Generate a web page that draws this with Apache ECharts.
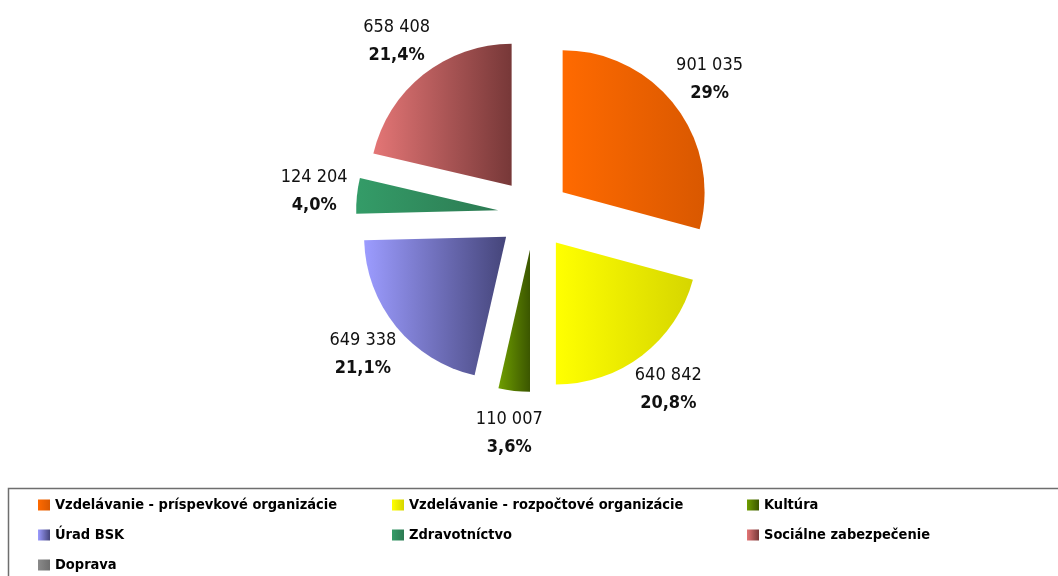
<!DOCTYPE html>
<html lang="sk">
<head>
<meta charset="UTF-8">
<title>Výdavky podľa oblastí</title>
<script src="https://cdn.jsdelivr.net/npm/echarts@6/dist/echarts.min.js"></script>
<style>
  html, body { margin: 0; padding: 0; background: #fff; }
  #chart { width: 1058px; height: 576px; }
</style>
</head>
<body>
<div id="chart"></div>
<script>
// kategórie a hodnoty odčítané z grafu
let categories = ['Vzdelávanie - príspevkové organizácie', 'Vzdelávanie - rozpočtové organizácie', 'Kultúra',
    'Úrad BSK', 'Zdravotníctvo', 'Sociálne zabezpečenie', 'Doprava'];
let values = [901035, 640842, 110007, 649338, 124204, 658408, 0];
let percentLabels = ['29%', '20,8%', '3,6%', '21,1%', '4,0%', '21,4%', ''];

// farby: svetlá -> tmavá (zľava doprava)
let colorPairs = [
    ['#ff6a00', '#d95800'],
    ['#ffff00', '#d6d600'],
    ['#6f9e00', '#3b5600'],
    ['#9c9cff', '#45457a'],
    ['#349c68', '#2c7a52'],
    ['#e47676', '#773838'],
    ['#8a8a8a', '#6e6e6e']
];

const FONT = '"Liberation Sans Narrow", "DejaVu Sans Condensed", "Liberation Sans", sans-serif';

function fmt(v) {
    return String(v).replace(/\B(?=(\d{3})+(?!\d))/g, ' ');
}

let chart = echarts.init(document.getElementById('chart'));

let pieData = categories.map((name, i) => ({
    name: name,
    value: values[i],
    selected: true,
    itemStyle: {
        color: new echarts.graphic.LinearGradient(0, 0, 1, 0, [
            { offset: 0, color: colorPairs[i][0] },
            { offset: 1, color: colorPairs[i][1] }
        ])
    }
}));

// priehľadný prstenec len pre popisky (stred popisku ~40 px za okrajom výseku)
let labelData = categories.map((name, i) => ({
    name: name,
    value: values[i],
    selected: true,
    label: { show: values[i] > 0 }
}));

let col1 = [categories[0], categories[3], categories[6]];
let col2 = [categories[1], categories[4]];
let col3 = [categories[2], categories[5]];

function legendCol(left, data) {
    return {
        orient: 'vertical',
        left: left,
        top: 497,
        padding: 0,
        data: data,
        icon: 'rect',
        itemWidth: 12,
        itemHeight: 11,
        itemGap: 14,
        selectedMode: false,
        textStyle: { fontFamily: FONT, fontSize: 14.5, fontWeight: 'bold', color: '#000', lineHeight: 16 }
    };
}

let option = {
    animation: false,
    legend: [legendCol(38, col1), legendCol(392, col2), legendCol(747, col3)],
    graphic: [{
        type: 'rect',
        shape: { x: 8.5, y: 488.5, width: 1100, height: 120 },
        style: { fill: 'none', stroke: '#6e6e6e', lineWidth: 1.5 },
        z: -1
    }],
    series: [
        {
            name: 'hodnoty',
            type: 'pie',
            center: [534, 214],
            radius: [0, 142],
            startAngle: 90,
            selectedMode: 'multiple',
            selectedOffset: 36,
            label: { show: false },
            labelLine: { show: false },
            emphasis: { disabled: true },
            data: pieData
        },
        {
            name: 'popisky',
            type: 'pie',
            center: [534, 214],
            radius: [162, 202],
            startAngle: 90,
            silent: true,
            selectedMode: 'multiple',
            selectedOffset: 36,
            itemStyle: { color: 'rgba(0,0,0,0)' },
            labelLine: { show: false },
            emphasis: { disabled: true },
            label: {
                show: true,
                position: 'inside',
                formatter: function (p) {
                    return '{v|' + fmt(p.value) + '}\n{p|' + percentLabels[p.dataIndex] + '}';
                },
                rich: {
                    v: { fontFamily: FONT, fontSize: 18, color: '#111', lineHeight: 28, align: 'center' },
                    p: { fontFamily: FONT, fontSize: 18, fontWeight: 'bold', color: '#111', lineHeight: 28, align: 'center' }
                }
            },
            data: labelData
        }
    ]
};
chart.setOption(option);
</script>
</body>
</html>
